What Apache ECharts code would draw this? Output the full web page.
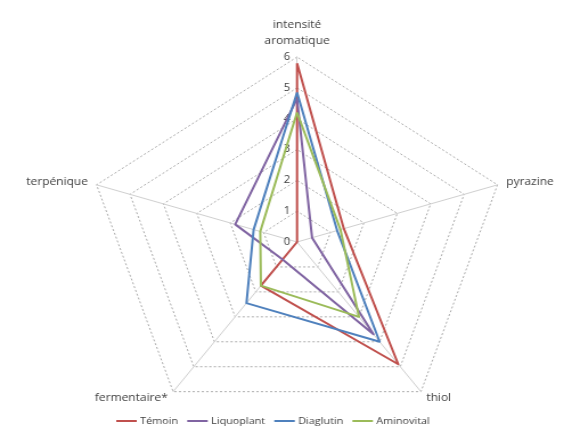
<!DOCTYPE html>
<html>
<head>
<meta charset="utf-8">
<script src="https://cdn.jsdelivr.net/npm/echarts@6/dist/echarts.min.js"></script>
<style>
  html, body { margin: 0; padding: 0; background: #ffffff; overflow: hidden; }
  /* chart drawn on a narrower canvas and widened to the page width */
  #chart { width: 495px; height: 441px; transform: scaleX(1.1394); transform-origin: 0 0; }
</style>
</head>
<body>
<div id="chart"></div>
<script>
// Axes in drawing order (ECharts places them counter-clockwise from the top)
const axisNames = ['intensité\naromatique', 'terpénique', 'fermentaire*', 'thiol', 'pyrazine'];
const tickMax = 6;

const seriesNames = ['Témoin', 'Liquoplant', 'Diaglutin', 'Aminovital'];
const temoin     = [5.8, 0.0, 1.75, 4.9, 1.4];
const liquoplant = [4.65, 1.85, 0.7, 3.7, 0.45];
const diaglutin  = [4.85, 1.3, 2.45, 4.0, 1.2];
const aminovital = [4.2, 1.1, 1.75, 3.0, 1.3];

const seriesValues = [temoin, liquoplant, diaglutin, aminovital];
const seriesColors = ['#C0504D', '#8064A2', '#4F81BD', '#9BBB59'];

const FONT = 'Open Sans';

const chart = echarts.init(document.getElementById('chart'), null, { renderer: 'canvas' });

chart.setOption({
  animation: false,
  backgroundColor: '#ffffff',
  color: seriesColors,
  legend: {
    data: seriesNames,
    left: 97,
    top: 411,
    icon: 'rect',
    itemWidth: 18,
    itemHeight: 2,
    itemGap: 8,
    textStyle: { fontFamily: FONT, fontSize: 9.5, color: '#404040', padding: [0, 0, 0, -2] }
  },
  radar: {
    center: [260.7, 242],
    radius: 185,
    startAngle: 90,
    splitNumber: 6,
    shape: 'polygon',
    nameGap: 8,
    axisName: { fontFamily: FONT, fontSize: 10.5, color: '#404040', lineHeight: 16 },
    axisLine: { lineStyle: { color: '#d0d0d0', width: 1 } },
    splitLine: { lineStyle: { color: '#adadad', width: 1, type: [2, 2] } },
    splitArea: { show: false },
    axisTick: { show: false },
    axisLabel: { show: false },
    indicator: axisNames.map((name, i) => ({
      name: name,
      min: 0,
      max: tickMax,
      axisLabel: i === 0
        ? { show: true, fontFamily: FONT, fontSize: 10, color: '#404040', margin: 6 }
        : { show: false }
    }))
  },
  series: [{
    type: 'radar',
    symbol: 'none',
    data: seriesNames.map((name, i) => ({
      name: name,
      value: seriesValues[i],
      lineStyle: { color: seriesColors[i], width: 2 },
      itemStyle: { color: seriesColors[i] }
    }))
  }]
});
</script>
</body>
</html>
